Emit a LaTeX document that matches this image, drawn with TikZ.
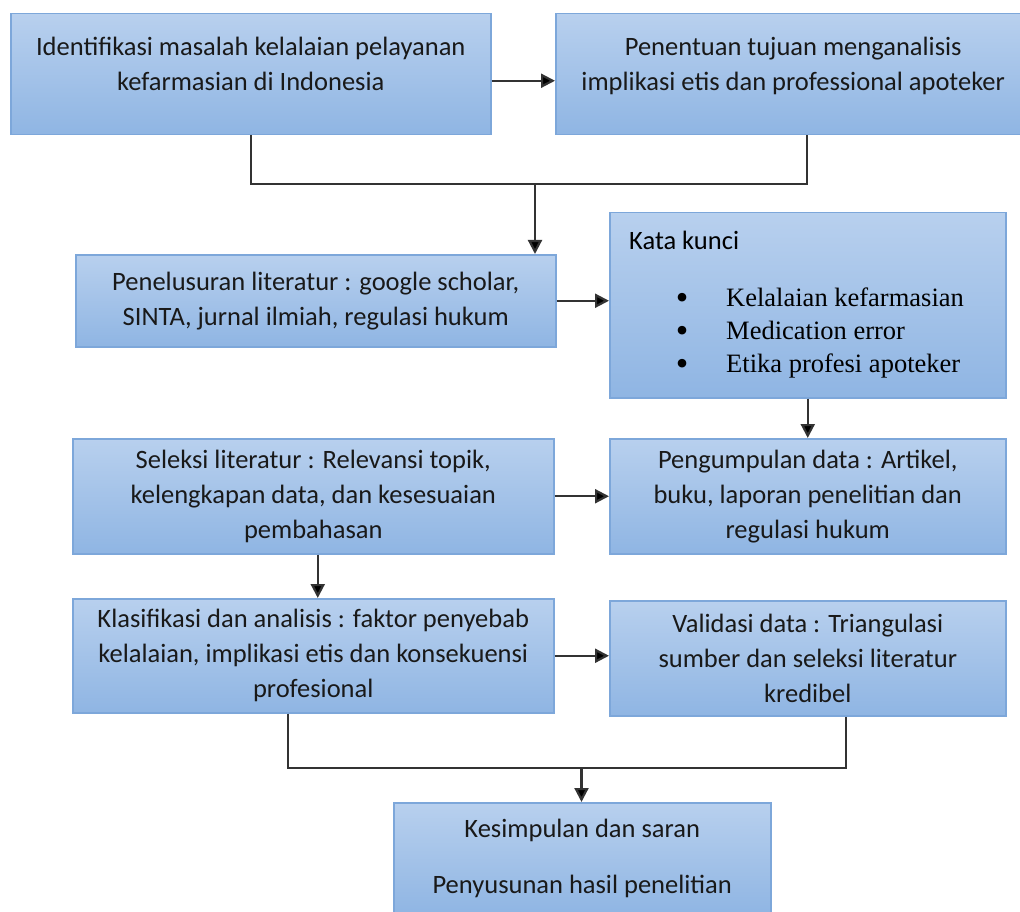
\documentclass[tikz,border=0pt]{standalone}
\usepackage{fontspec}
\setmainfont{Carlito}
\newfontfamily\listfont{Liberation Serif}
\usetikzlibrary{arrows.meta, positioning}
\definecolor{boxtop}{HTML}{B8D0EE}
\definecolor{boxbottom}{HTML}{8FB5E3}
\definecolor{boxedge}{HTML}{7DA7DA}
\definecolor{linkgray}{HTML}{333333}
\newcommand{\boxfont}{\fontsize{26.5}{35}\selectfont}
\newcommand{\butir}{\makebox[12pt]{\raisebox{-3pt}{\scalebox{1.35}{•}}}}

\tikzset{
  flowbox/.style={draw=boxedge, line width=1.5pt, top color=boxtop, bottom color=boxbottom,
    anchor=north west, align=center, inner sep=0pt, font=\boxfont, text=black!90},
  link/.style={draw=linkgray, line width=2.2pt},
  flow/.style={link, -{Triangle[width=14pt, length=14pt, fill=black]}},
}

\begin{document}
\begin{tikzpicture}[x=1pt, y=-1pt]
  \useasboundingbox (0,0) rectangle (1020,912);
  % first row
  \node[flowbox, minimum width=480pt, minimum height=121pt] (ident) at (10,13)
       {Identifikasi masalah kelalaian pelayanan\\kefarmasian di Indonesia\\[-14pt]\mbox{}};
  \node[flowbox, minimum width=475pt, minimum height=121pt] (tujuan) at (555,13)
       {Penentuan tujuan menganalisis\\implikasi etis dan professional apoteker\\[-14pt]\mbox{}};
  % second row
  \node[flowbox, minimum width=480pt, minimum height=92pt] (literatur) at (75,254)
       {Penelusuran literatur : google scholar,\\SINTA, jurnal ilmiah, regulasi hukum};
  \node[flowbox, minimum width=396pt, minimum height=185pt] (kunci) at (609,212) {};
  \node[anchor=base west, inner sep=0pt, font=\boxfont] (kuncijudul) at (629,249) {Kata kunci};
  \node[anchor=base west, inner sep=0pt, font=\listfont\fontsize{26.5}{33}\selectfont] (kuncidaftar) at (676,306)
       {\begin{tabular}[t]{@{}l@{\hspace{38pt}}l@{}}
          \butir & Kelalaian kefarmasian\\
          \butir & Medication error\\
          \butir & Etika profesi apoteker
        \end{tabular}};
  % third row
  \node[flowbox, minimum width=481pt, minimum height=115pt] (seleksi) at (72,438)
       {Seleksi literatur : Relevansi topik,\\kelengkapan data, dan kesesuaian\\pembahasan};
  \node[flowbox, minimum width=396pt, minimum height=115pt] (kumpul) at (609,438)
       {Pengumpulan data : Artikel,\\buku, laporan penelitian dan\\regulasi hukum};
  % fourth row
  \node[flowbox, minimum width=481pt, minimum height=114pt] (klasifikasi) at (72,598)
       {Klasifikasi dan analisis : faktor penyebab\\kelalaian, implikasi etis dan konsekuensi\\profesional};
  \node[flowbox, minimum width=396pt, minimum height=115pt] (validasi) at (609,600)
       {Validasi data : Triangulasi\\sumber dan seleksi literatur\\kredibel};
  % last box
  \node[flowbox, minimum width=377pt, minimum height=112pt] (simpulan) at (393,802)
       {Kesimpulan dan saran\\[21pt]Penyusunan hasil penelitian};

  \coordinate (gabung1) at (535,184);
  \coordinate (gabung2) at (581.5,768);

  \draw[flow] ([yshift=-6.5pt]ident.east) -- ([yshift=-6.5pt]ident.east -| tujuan.west);
  \draw[link] (ident.south) |- ([xshift=14pt]tujuan.south |- gabung1) -- ([xshift=14pt]tujuan.south);
  \draw[flow] (gabung1) -- (gabung1 |- literatur.north);
  \draw[flow] (literatur.east) -- (literatur.east -| kunci.west);
  \draw[flow] (kunci.south) -- (kumpul.north);
  \draw[flow] (seleksi.east) -- (kumpul.west);
  \draw[flow] ([xshift=4.5pt]seleksi.south) -- ([xshift=4.5pt]klasifikasi.north);
  \draw[flow] (klasifikasi.east) -- (klasifikasi.east -| validasi.west);
  \draw[link, line width=1.8pt] ([xshift=-25pt]klasifikasi.south) |- ([xshift=38pt]validasi.south |- gabung2)
        -- ([xshift=38pt]validasi.south);
  \draw[flow] (gabung2) -- (gabung2 |- simpulan.north);
\end{tikzpicture}
\end{document}
